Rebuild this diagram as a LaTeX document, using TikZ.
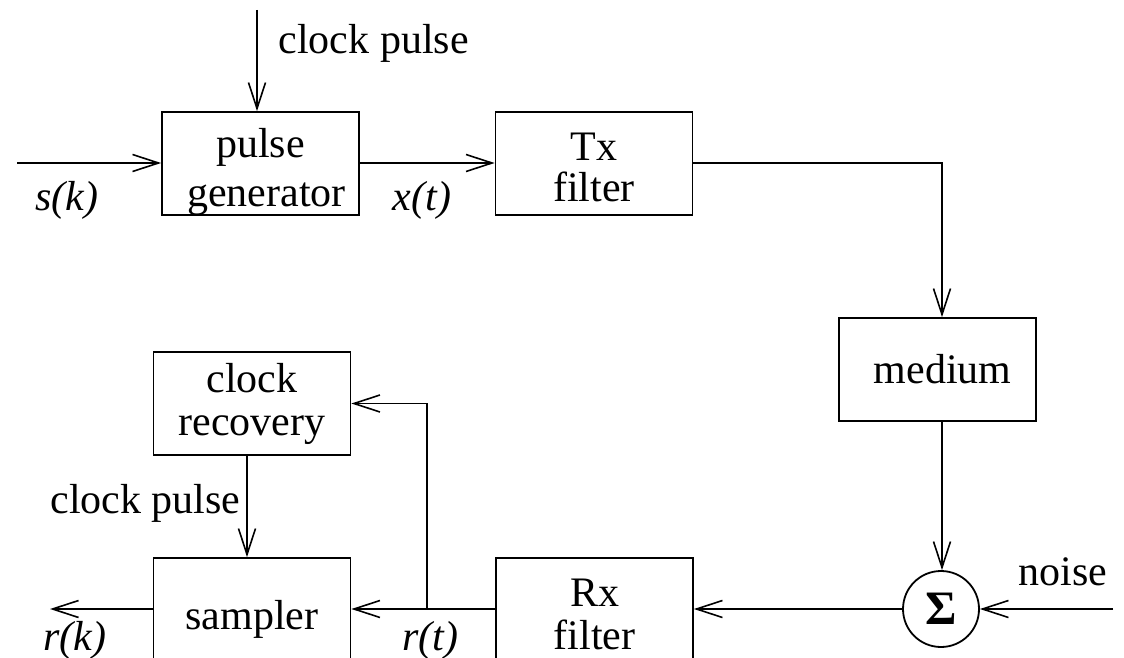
\documentclass[tikz,border=0pt]{standalone}
\usepackage{fontspec}
\setmainfont{Liberation Serif}
\usetikzlibrary{arrows.meta}
\begin{document}
\begin{tikzpicture}[x=1pt,y=-1pt,
  every node/.style={font=\fontsize{42}{47}\selectfont},
  blk/.style={draw, line width=1.8pt, minimum width=197pt, minimum height=103pt, align=center, inner sep=0pt},
  sumnode/.style={draw, line width=1.8pt, circle, minimum size=76pt, inner sep=0pt},
  lbl/.style={font=\fontsize{42}{47}\selectfont\itshape},
  arr/.style={line width=1.6pt, -{Straight Barb[length=26pt,width=17pt,line width=1.6pt]}},
  ln/.style={line width=1.6pt}]
\useasboundingbox (0,0) rectangle (1124,658);
\clip (0,0) rectangle (1124,658);
% blocks
\node[blk] (pg) at (260.5,163.5) {};
\node[align=center, inner sep=0pt] (pgt) at ([yshift=-8pt]pg.center) {pulse\\[2pt]\hspace*{12pt}generator};
\node[blk] (tx) at (594,163.5) {\rule{0pt}{36pt}Tx\\[-6pt]filter};
\node[blk] (md) at (937.5,369.5) {\hspace*{10pt}medium};
\node[blk] (cr) at (252,403.5) {clock\\[-4pt]recovery};
\node[blk] (sp) at (252,609.5) {\rule{0pt}{49pt}sampler};
\node[blk] (rx) at (594.5,609.5) {\rule{0pt}{37pt}Rx\\[-4pt]filter};
\node[sumnode] (sm) at (941,609) {\fontsize{48}{48}\selectfont\bfseries Σ};
% coordinates
\coordinate (in) at (17,163);
\coordinate (ck) at (257,10);
\coordinate (c1) at (942,163);
\coordinate (nz) at (1113,609);
\coordinate (br) at (427,609);
\coordinate (ca) at (247,455);
\coordinate (out) at (50,609);
% connectors
\draw[arr] (in) -- (pg.west |- in);
\draw[arr] (ck) -- (ck |- pg.north);
\draw[arr] (pg.east |- in) -- (tx.west |- in);
\draw[arr] (tx.east |- c1) -- (c1) -- (c1 |- md.north);
\draw[arr] (c1 |- md.south) -- (c1 |- sm.north);
\draw[arr] (nz) -- (sm.east);
\draw[arr] (sm.west) -- (rx.east |- sm.west);
\draw[arr] (rx.west |- br) -- (sp.east |- br);
\draw[arr] (br) |- (cr.east);
\draw[arr] (ca) -- (ca |- sp.north);
\draw[arr] (sp.west |- out) -- (out);
% labels
\node[anchor=west] (t1) at (275,43) {clock pulse};
\node[anchor=east] (t2) at (244,503) {clock pulse};
\node (t3) at (1063,572) {noise};
\node[lbl] (l1) at (67,200) {s(k)};
\node[lbl] (l2) at (422,200) {x(t)};
\node[lbl] (l3) at (75,640) {r(k)};
\node[lbl] (l4) at (430,640) {r(t)};
\end{tikzpicture}
\end{document}
